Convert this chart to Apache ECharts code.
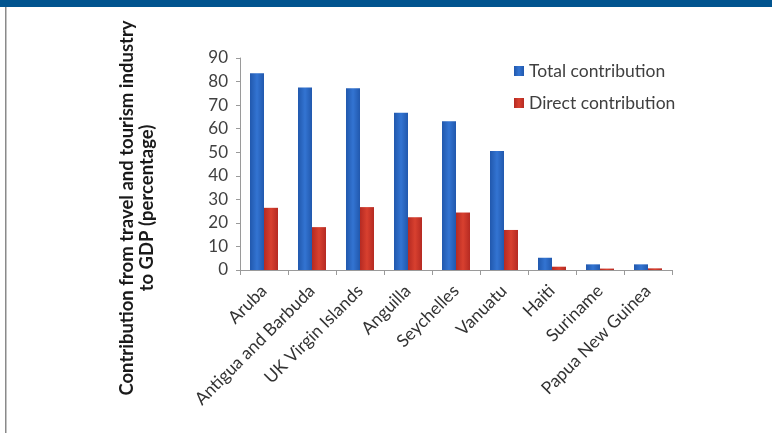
<!DOCTYPE html>
<html><head><meta charset="utf-8">
<script src="https://cdn.jsdelivr.net/npm/echarts@6/dist/echarts.min.js"></script>
<style>html,body{margin:0;padding:0;background:#fff}#c{width:772px;height:433px}</style>
</head><body><div id="c"></div>
<script>
const categories = ["Aruba","Antigua and Barbuda","UK Virgin Islands","Anguilla","Seychelles","Vanuatu","Haiti","Suriname","Papua New Guinea"];
const totalContribution = [83.5, 77.5, 77.2, 66.8, 63.2, 50.5, 5.2, 2.4, 2.4];
const directContribution = [26.4, 18.2, 26.7, 22.4, 24.4, 17.0, 1.4, 0.6, 0.7];
const yTicks = [0, 90, 10];
const seriesNames = ["Total contribution", "Direct contribution"];
const yTitle = "Contribution from travel and tourism industry\nto GDP (percentage)";

const font = "Lato, 'Open Sans', sans-serif";
const chart = echarts.init(document.getElementById('c'));
const blue = new echarts.graphic.LinearGradient(0,0,1,0,[{offset:0,color:'#2158ad'},{offset:0.5,color:'#3374d2'},{offset:1,color:'#2158ad'}]);
const red = new echarts.graphic.LinearGradient(0,0,1,0,[{offset:0,color:'#b52a22'},{offset:0.5,color:'#d8402f'},{offset:1,color:'#b52a22'}]);
chart.setOption({
  animation:false,
  backgroundColor:'#fff',
  graphic:[
    {type:'rect',left:0,top:0,shape:{width:772,height:7},style:{fill:'#01548f'}},
    {type:'rect',left:5,top:7,shape:{width:1.5,height:426},style:{fill:'#8a8a8a'}},
    {type:'text',x:137,y:208,rotation:Math.PI/2,style:{text:yTitle,font:"bold 18.5px "+font,fill:'#1a1a1a',textAlign:'center',textVerticalAlign:'middle',lineHeight:20}}
  ],
  legend:{orient:'vertical',left:509,top:57,itemWidth:10,itemHeight:10,itemGap:14,icon:'rect',
    textStyle:{fontFamily:font,fontSize:17.5,color:'#404040'},data:seriesNames},
  grid:{left:240,right:100,top:58,bottom:163,containLabel:false},
  xAxis:{type:'category',data:categories,
    axisLine:{lineStyle:{color:'#9a9a9a'}},
    axisTick:{show:true,alignWithLabel:false,length:5,lineStyle:{color:'#9a9a9a'}},
    axisLabel:{rotate:45,interval:0,fontFamily:font,fontSize:17.5,color:'#333',margin:18}},
  yAxis:{type:'value',min:yTicks[0],max:yTicks[1],interval:yTicks[2],
    axisLine:{show:true,lineStyle:{color:'#9a9a9a'}},
    axisTick:{show:true,length:4,lineStyle:{color:'#9a9a9a'}},
    splitLine:{show:false},
    axisLabel:{fontFamily:font,fontSize:17,color:'#404040',margin:12}},
  series:[
    {name:seriesNames[0],type:'bar',data:totalContribution,barWidth:14,barGap:'0%',itemStyle:{color:blue}},
    {name:seriesNames[1],type:'bar',data:directContribution,barWidth:14,barGap:'0%',itemStyle:{color:red}}
  ]
});
</script></body></html>
